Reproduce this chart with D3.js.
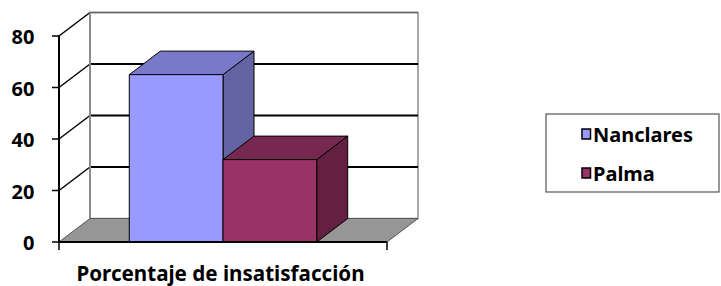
<!DOCTYPE html>
<html><head><meta charset="utf-8">
<script src="https://cdn.jsdelivr.net/npm/d3@7"></script>
<style>html,body{margin:0;padding:0;background:#fff;} svg{display:block;}</style>
</head><body>
<svg id="chart" width="721" height="286"></svg>
<script>
const categories = ["Porcentaje de insatisfacción"];
const seriesNames = ["Nanclares", "Palma"];
const seriesValues = [65, 32];
const yTicks = [0, 20, 40, 60, 80];
const frontColors = ["#9999FF", "#993366"];
const topColors = ["#7979C9", "#772850"];
const sideColors = ["#6464A3", "#632041"];

const svg = d3.select("#chart");
const FONT = "'Noto Sans', 'Open Sans', sans-serif";
const DX = 31, DY = -23.5;
const y = d3.scaleLinear().domain([0, 80]).range([242, 36]);
const xCat = d3.scaleBand().domain(categories).range([59, 387]);
const x = d3.scaleBand().domain(seriesNames).range([59, 387]).paddingOuter(0.75).paddingInner(0);
const x0 = xCat.range()[0], x1 = xCat.range()[1];
const yTop = y(80), yBot = y(0);

// back wall
svg.append("rect").attr("x", x0 + DX).attr("y", yTop + DY).attr("width", x1 - x0).attr("height", yBot - yTop)
  .attr("fill", "#fff").attr("stroke", "#8c8c8c").attr("stroke-width", 1.5);

// gridlines on back wall & side wall
yTicks.filter(t => t > 0 && t < 80).forEach(t => {
  svg.append("line").attr("x1", x0 + DX).attr("x2", x1 + DX).attr("y1", y(t) + DY).attr("y2", y(t) + DY)
    .attr("stroke", "#000").attr("stroke-width", 2);
});
yTicks.filter(t => t > 0).forEach(t => {
  svg.append("line").attr("x1", x0).attr("x2", x0 + DX).attr("y1", y(t)).attr("y2", y(t) + DY)
    .attr("stroke", "#000").attr("stroke-width", 1.5);
});
// back-left wall edge
svg.append("line").attr("x1", x0 + DX).attr("x2", x0 + DX).attr("y1", yTop + DY).attr("y2", yBot + DY)
  .attr("stroke", "#8c8c8c").attr("stroke-width", 2);
svg.append("line").attr("x1", x0 + DX).attr("x2", x1 + DX).attr("y1", yTop + DY).attr("y2", yTop + DY)
  .attr("stroke", "#666").attr("stroke-width", 1.5);

// floor
svg.append("polygon")
  .attr("points", [[x0, yBot], [x1, yBot], [x1 + DX, yBot + DY], [x0 + DX, yBot + DY]].map(p => p.join(",")).join(" "))
  .attr("fill", "#969696").attr("stroke", "#555").attr("stroke-width", 1);

// bars
seriesNames.forEach((s, i) => {
  const v = seriesValues[i];
  const bx0 = x(s), bx1 = x(s) + x.bandwidth(), by = y(v), b0 = y(0);
  const g = svg.append("g").attr("stroke", "#000").attr("stroke-width", 1).attr("stroke-linejoin", "round");
  g.append("polygon").attr("points", [[bx1, by], [bx1 + DX, by + DY], [bx1 + DX, b0 + DY], [bx1, b0]].map(p => p.join(",")).join(" "))
    .attr("fill", sideColors[i]);
  g.append("polygon").attr("points", [[bx0, by], [bx0 + DX, by + DY], [bx1 + DX, by + DY], [bx1, by]].map(p => p.join(",")).join(" "))
    .attr("fill", topColors[i]);
  g.append("rect").attr("x", bx0).attr("y", by).attr("width", bx1 - bx0).attr("height", b0 - by)
    .attr("fill", frontColors[i]);
});

// y axis
svg.append("line").attr("x1", x0).attr("x2", x0).attr("y1", yTop).attr("y2", yBot).attr("stroke", "#000").attr("stroke-width", 2);
yTicks.forEach(t => {
  svg.append("line").attr("x1", x0 - 7).attr("x2", x0).attr("y1", y(t)).attr("y2", y(t)).attr("stroke", "#000").attr("stroke-width", 1.5);
  svg.append("text").attr("x", 34.5).attr("y", y(t) + 1).attr("dy", "0.36em").attr("text-anchor", "end")
    .attr("font-family", FONT).attr("font-weight", "bold").attr("font-size", 20).text(t);
});
// x axis
svg.append("line").attr("x1", x0).attr("x2", x1).attr("y1", yBot).attr("y2", yBot).attr("stroke", "#000").attr("stroke-width", 2);
[x0, x1].forEach(px => {
  svg.append("line").attr("x1", px).attr("x2", px).attr("y1", yBot).attr("y2", yBot + 8).attr("stroke", "#000").attr("stroke-width", 1.5);
});
svg.append("text").attr("x", xCat(categories[0]) + xCat.bandwidth() / 2 - 2.5).attr("y", 281).attr("text-anchor", "middle")
  .attr("font-family", FONT).attr("font-weight", "bold").attr("font-size", 20.6).text(categories[0]);

// legend
const lg = svg.append("g");
lg.append("rect").attr("x", 546).attr("y", 114).attr("width", 173).attr("height", 78)
  .attr("fill", "#fff").attr("stroke", "#555").attr("stroke-width", 1.2);
seriesNames.forEach((s, i) => {
  const cy = 134 + i * 39;
  lg.append("rect").attr("x", 582).attr("y", cy - 5).attr("width", 8.5).attr("height", 10)
    .attr("fill", frontColors[i]).attr("stroke", "#000").attr("stroke-width", 1.5);
  lg.append("text").attr("x", 593).attr("y", cy + 7.5)
    .attr("font-family", FONT).attr("font-weight", "bold").attr("font-size", 20).text(s);
});
</script>
</body></html>
